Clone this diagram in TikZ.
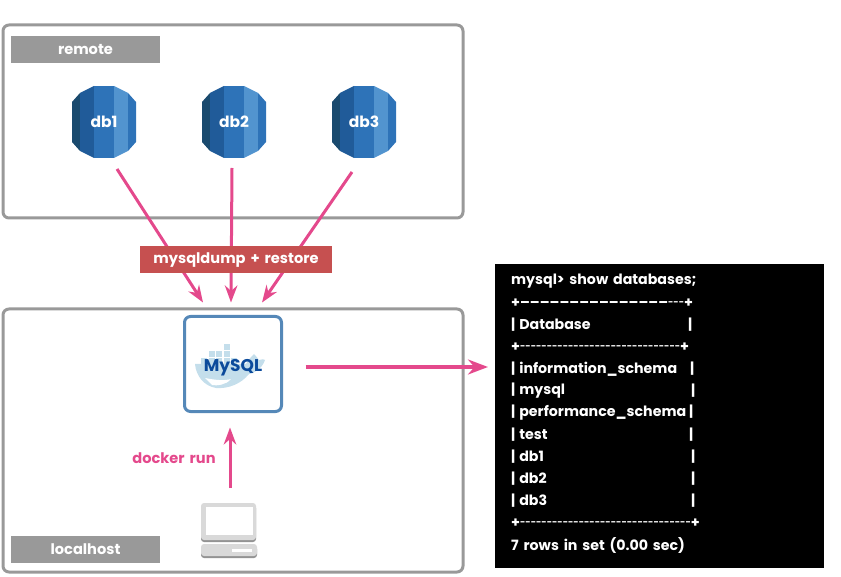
\documentclass[tikz,border=0pt]{standalone}
\usepackage{fontspec}
\setmainfont{Poppins}[WordSpace=1.6]
\usetikzlibrary{arrows.meta}
\definecolor{hostgray}{HTML}{999999}
\definecolor{flowpink}{HTML}{E4498C}
\definecolor{dumpred}{HTML}{C65050}
\definecolor{frameblue}{HTML}{5588B8}
\definecolor{whaleblue}{HTML}{C4DEEB}
\definecolor{sqlnavy}{HTML}{0B4A9B}
\newcommand{\hyphens}[1]{\raisebox{1.6pt}{\fontsize{9.2}{9}\selectfont\foreach \i in {1,...,#1}{-{}}}}
\newcommand{\pipeopen}{|\kern4pt}
\tikzset{
  hostbox/.style={draw=hostgray,line width=3pt,rounded corners=6pt,minimum width=460pt,inner sep=0pt,outer sep=0pt},
  hostlabel/.style={fill=hostgray,text=white,font=\bfseries\fontsize{14.6}{17}\selectfont,minimum width=149pt,minimum height=27pt,inner sep=0pt},
  flow/.style={draw=flowpink,line width=3pt,-{Stealth[length=17pt,width=12.5pt]}},
  termline/.style={text=white,anchor=west,inner sep=0pt,yshift=-1pt,font=\bfseries\fontsize{14.2}{18}\selectfont},
  dbcan/.pic={
    \fill[fill={rgb,255:red,26;green,74;blue,110}] (-32,-20)--(-24,-29)--(-24,29)--(-32,20)--cycle;
    \fill[fill={rgb,255:red,32;green,91;blue,153}] (-24,-29)--(-10,-36)--(-10,36)--(-24,29)--cycle;
    \fill[fill={rgb,255:red,46;green,115;blue,184}] (-10,-36)--(10,-36)--(10,36)--(-10,36)--cycle;
    \fill[fill={rgb,255:red,82;green,148;blue,207}] (10,-36)--(24,-29)--(24,29)--(10,36)--cycle;
    \fill[fill={rgb,255:red,46;green,115;blue,184}] (24,-29)--(32,-20)--(32,20)--(24,29)--cycle;
  }
}
\begin{document}
\begin{tikzpicture}[x=1pt,y=-1pt]
\useasboundingbox (0,0) rectangle (841,577);
% hosts
\node[hostbox,minimum height=193pt] (remote) at (233,121.5) {};
\node[hostbox,minimum height=263pt] (localhost) at (233,440.5) {};
\node[hostlabel] (remotelabel) at (85.5,49.5) {remote};
\node[hostlabel] (localhostlabel) at (85.5,549.5) {localhost};
% databases
\foreach \dbname/\dbx in {db1/104,db2/234,db3/364}{
  \pic at (\dbx,122) {dbcan};
  \node[text=white,font=\bfseries\fontsize{15.5}{18}\selectfont,minimum width=64pt,minimum height=72pt,inner sep=0pt,outer sep=0pt] (\dbname) at (\dbx,122) {\dbname};
}
% whale
\fill[whaleblue] (195,364) -- (246,364) .. controls (249,359) and (252,356) .. (254,354)
  .. controls (257,357) and (258,359) .. (259,360) .. controls (262,359) and (264,359) .. (265,360)
  .. controls (262,369) and (254,373) .. (249,374) .. controls (241,384) and (228,389) .. (216,388)
  .. controls (204,386) and (196,376) .. (195,364) -- cycle;
\fill[white] (205,378) .. controls (215,380) and (224,381) .. (231,379) .. controls (226,385) and (217,386) .. (212,385) -- cycle;
\foreach \bx/\by in {209/351,216/351,224/351,224/344,201/358,209/358,216/358,224/358,231/358}{
  \fill[whaleblue] (\bx,\by) rectangle ++(6,6);
}
\node[draw=frameblue,line width=3pt,rounded corners=6pt,minimum width=97pt,minimum height=95pt,inner sep=0pt,outer sep=0pt,text=sqlnavy,text height=16pt,text depth=0pt,font=\bfseries\fontsize{17}{18}\selectfont] (mysql) at (233,364) {MySQL};
% laptop
\node[minimum width=56pt,minimum height=55pt,inner sep=0pt,outer sep=0pt] (laptop) at (229,530.5) {};
\fill[gray!85,rounded corners=3pt] (201,505) rectangle (256,542);
\fill[black!15,rounded corners=3pt] (201,503) rectangle (256,540);
\fill[white] (206,507) rectangle (253,535);
\fill[gray!85,rounded corners=3pt] (201,546) rectangle (257,558);
\fill[black!15,rounded corners=3pt] (201,544) rectangle (257,556);
\fill[white] (232,549) rectangle (252,552);
% terminal
\node[fill=black,minimum width=329pt,minimum height=304pt,inner sep=0pt,outer sep=0pt] (terminal) at (659.5,416) {};
\node[termline] (line1) at (511,280) {mysql> show databases;};
\node[termline] (line2) at (511,302) {+\foreach \i in {1,...,15}{--}\hyphens{3}+};
\node[termline] (line3) at (511,324) {\pipeopen Database};
\node[termline] (line4) at (511,346) {+\hyphens{30}+};
\node[termline] (line5) at (511,368) {\pipeopen information\_schema};
\node[termline] (line6) at (511,390) {\pipeopen mysql};
\node[termline] (line7) at (511,412) {\pipeopen performance\_schema\kern3pt|};
\node[termline] (line8) at (511,434) {\pipeopen test};
\node[termline] (line9) at (511,456) {\pipeopen db1};
\node[termline] (line10) at (511,478) {\pipeopen db2};
\node[termline] (line11) at (511,500) {\pipeopen db3};
\node[termline] (line12) at (511,522) {+\hyphens{32}+};
\node[termline] (line13) at (511,544) {7 rows in set (0.00 sec)};
\foreach \pipename/\pipex/\pipey in {pipe3/688/324,pipe5/690/368,pipe6/691/390,pipe8/689/434,pipe9/691/456,pipe10/691/478,pipe11/691/500}{
  \node[termline] (\pipename) at (\pipex,\pipey) {|};
}
% connectors
\draw[flow] ([shift={(13,11)}]db1.south) -- ([shift={(-30,-14)}]mysql.north);
\draw[flow] ([shift={(-2,10)}]db2.south) -- ([shift={(-2,-14)}]mysql.north);
\draw[flow] ([shift={(-12,14)}]db3.south) -- ([shift={(29,-14)}]mysql.north);
\draw[flow] ([shift={(1,-15)}]laptop.north) -- ([shift={(-3,16)}]mysql.south);
\draw[flow,line width=4pt,-{Stealth[length=20pt,width=15pt]}] ([shift={(24,3)}]mysql.east) -- ([shift={(-7,-49)}]terminal.west);
\node[fill=dumpred,text=white,font=\bfseries\fontsize{14.6}{17}\selectfont,minimum width=192pt,minimum height=27pt,inner sep=0pt,text height=11pt,text depth=3pt] (dump) at (236,259.5) {mysqldump + restore};
\node[text=flowpink,font=\bfseries\fontsize{14.6}{17}\selectfont,inner sep=0pt] (dockerrun) at (174,458) {docker run};
\end{tikzpicture}
\end{document}
